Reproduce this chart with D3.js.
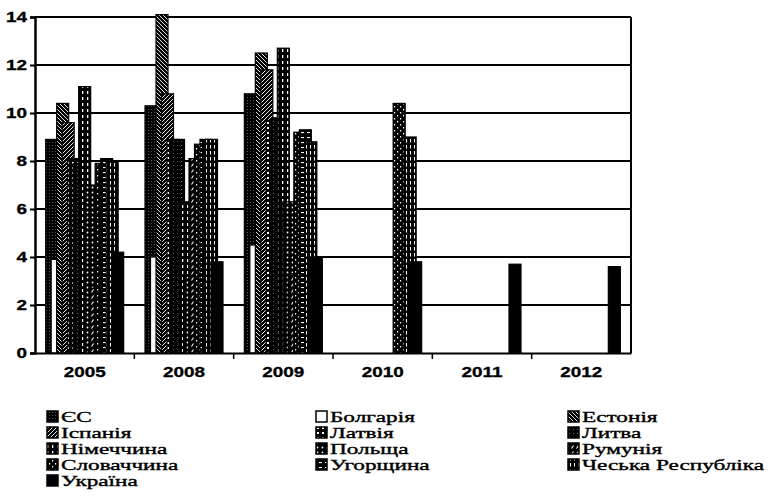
<!DOCTYPE html>
<html><head><meta charset="utf-8">
<script src="https://cdn.jsdelivr.net/npm/d3@7"></script>
<style>body{margin:0;background:#fff}svg{display:block}</style>
</head><body>
<svg id="c" width="770" height="500"></svg>
<script>
const years = ["2005","2008","2009","2010","2011","2012"];
const seriesNames = ["ЄС","Болгарія","Естонія","Іспанія","Латвія","Литва","Німеччина","Польща","Румунія","Словаччина","Угорщина","Чеська Республіка","Україна"];
const vEU = [8.9, 10.3, 10.8, null, null, null];
const vBG = [3.9, 4.0, 4.5, null, null, null];
const vEE = [10.4, 14.1, 12.5, null, null, null];
const vES = [9.6, 10.8, 11.8, null, null, null];
const vLV = [8.1, 8.9, 9.7, null, null, null];
const vLT = [7.9, 8.9, 9.8, null, null, null];
const vDE = [11.1, 6.3, 12.7, null, null, null];
const vPL = [7.0, 3.2, 6.3, null, null, null];
const vRO = [2.7, 8.1, 3.3, null, null, null];
const vSK = [7.9, 8.7, 9.2, 10.4, null, null];
const vHU = [8.1, 8.9, 9.3, null, null, null];
const vCZ = [8.0, 8.9, 8.8, 9.0, null, null];
const vUA = [4.2, 3.8, 4.0, 3.8, 3.7, 3.6];
const yTicks = [0,2,4,6,8,10,12,14];

const seriesValues = [vEU,vBG,vEE,vES,vLV,vLT,vDE,vPL,vRO,vSK,vHU,vCZ,vUA];
const patIds = ["eu","bg","ee","es","lv","lt","de","pl","ro","sk","hu","cz","ua"];

const svg = d3.select("#c");
const defs = svg.append("defs");
function pat(id, w, h, draw, bg){
  const p = defs.append("pattern").attr("id","p-"+id).attr("patternUnits","userSpaceOnUse").attr("width",w).attr("height",h);
  p.append("rect").attr("width",w).attr("height",h).attr("fill",bg||"#000");
  draw(p);
}
pat("eu",3,3,p=>p.append("rect").attr("x",1).attr("y",1).attr("width",1).attr("height",1).attr("fill","#555"));
pat("bg",4,4,p=>{},"#fff");
pat("ee",4,4,p=>p.append("path").attr("d","M0,0L4,4M-1,3L1,5M3,-1L5,1").attr("stroke","#fff").attr("stroke-width",0.9));
pat("es",4,4,p=>p.append("path").attr("d","M0,4L4,0M-1,1L1,-1M3,5L5,3").attr("stroke","#fff").attr("stroke-width",0.9));
pat("lv",5,5,p=>p.append("rect").attr("x",2).attr("y",2).attr("width",2).attr("height",2).attr("fill","#fff"));
pat("lt",4,4,p=>p.append("rect").attr("x",1).attr("y",1).attr("width",1).attr("height",1).attr("fill","#666"));
pat("de",5,6,p=>p.append("rect").attr("x",2).attr("y",1).attr("width",1.3).attr("height",3).attr("fill","#fff"));
pat("pl",5,5,p=>p.append("circle").attr("cx",2.5).attr("cy",2.5).attr("r",0.9).attr("fill","#fff"));
pat("ro",5,6,p=>p.append("path").attr("d","M1.5,4.5L3.5,1.5").attr("stroke","#fff").attr("stroke-width",1.1));
pat("sk",6,6,p=>{p.append("rect").attr("x",1).attr("y",1).attr("width",1.2).attr("height",1.5).attr("fill","#fff");p.append("rect").attr("x",4).attr("y",4).attr("width",1.2).attr("height",1.5).attr("fill","#fff");});
pat("hu",6,5,p=>p.append("rect").attr("x",1).attr("y",2).attr("width",3).attr("height",1.1).attr("fill","#fff"));
pat("cz",4,6,p=>p.append("rect").attr("x",2).attr("y",1).attr("width",1).attr("height",3.5).attr("fill","#fff"));
pat("ua",4,4,p=>{},"#000");

const plotL = 35, plotR = 631, plotT = 17, plotB = 353;
const x0 = d3.scaleBand().domain(years).range([plotL,plotR]).padding(0);
const y = d3.scaleLinear().domain([0,14]).range([plotB,plotT]);
const barW = 12, groupW = 78;
const x1 = d3.scalePoint().domain(seriesNames).range([0, groupW - barW]);
const off = (x0.bandwidth() - groupW)/2;
const sx = 1.35;

// gridlines
svg.append("g").selectAll("line").data(yTicks.filter(d=>d>0)).join("line")
  .attr("x1",plotL).attr("x2",plotR).attr("y1",d=>y(d)).attr("y2",d=>y(d))
  .attr("stroke","#000").attr("stroke-width",2);
svg.append("line").attr("x1",plotR).attr("x2",plotR).attr("y1",plotT).attr("y2",plotB).attr("stroke","#000").attr("stroke-width",2);

// bars (later series drawn on top)
const barsG = svg.append("g");
seriesNames.forEach((s,si)=>{
  const vals = seriesValues[si];
  barsG.append("g").selectAll("rect").data(years.map((yr,i)=>({yr,v:vals[i]})).filter(d=>d.v!=null)).join("rect")
    .attr("x",d=>x0(d.yr)+off+x1(s))
    .attr("y",d=>y(d.v))
    .attr("width",barW)
    .attr("height",d=>y(0)-y(d.v))
    .attr("fill","url(#p-"+patIds[si]+")")
    .attr("stroke","#000").attr("stroke-width",1.2);
});

// axes
const yAxis = d3.axisLeft(y).tickValues(yTicks).tickSize(5).tickPadding(3);
const gy = svg.append("g").attr("transform",`translate(${plotL},0)`).call(yAxis);
gy.select(".domain").attr("stroke","#000").attr("stroke-width",2.5);
gy.selectAll(".tick line").attr("stroke","#000").attr("stroke-width",2);
gy.selectAll("text").attr("font-family","Liberation Sans, Arial, sans-serif").attr("font-weight","bold").attr("font-size",14).attr("fill","#000")
  .attr("x",-8/sx).attr("transform",`scale(${sx},1)`).attr("stroke","#000").attr("stroke-width",0.3);

const gx = svg.append("g").attr("transform",`translate(0,${plotB})`).call(d3.axisBottom(x0).tickSize(0).tickPadding(14));
gx.select(".domain").attr("stroke","#000").attr("stroke-width",2);
gx.selectAll("text").attr("font-family","Liberation Sans, Arial, sans-serif").attr("font-weight","bold").attr("font-size",14).attr("fill","#000")
  .attr("transform",`scale(${sx},1)`).attr("stroke","#000").attr("stroke-width",0.3);
svg.append("g").selectAll("line").data(years.slice(1)).join("line")
  .attr("x1",d=>x0(d)).attr("x2",d=>x0(d)).attr("y1",plotB).attr("y2",plotB+6)
  .attr("stroke","#000").attr("stroke-width",1.5);

// legend
const colX = [47, 316, 568];
const rowY0 = 417, rowH = 16;
const lg = svg.append("g");
seriesNames.forEach((s,i)=>{
  const col = i % 3, row = Math.floor(i/3);
  const lx = colX[col], ly = rowY0 + row*rowH;
  lg.append("rect").attr("x",lx).attr("y",ly-6).attr("width",11).attr("height",11)
    .attr("fill","url(#p-"+patIds[i]+")").attr("stroke","#000").attr("stroke-width",1.5);
  lg.append("text").attr("transform",`translate(${lx+14},${ly+5}) scale(1.66,1.05)`)
    .attr("font-family","Liberation Serif, Times New Roman, serif").attr("font-size",14).attr("fill","#000")
    .attr("stroke","#000").attr("stroke-width",0.35)
    .text(s);
});
</script>
</body></html>
